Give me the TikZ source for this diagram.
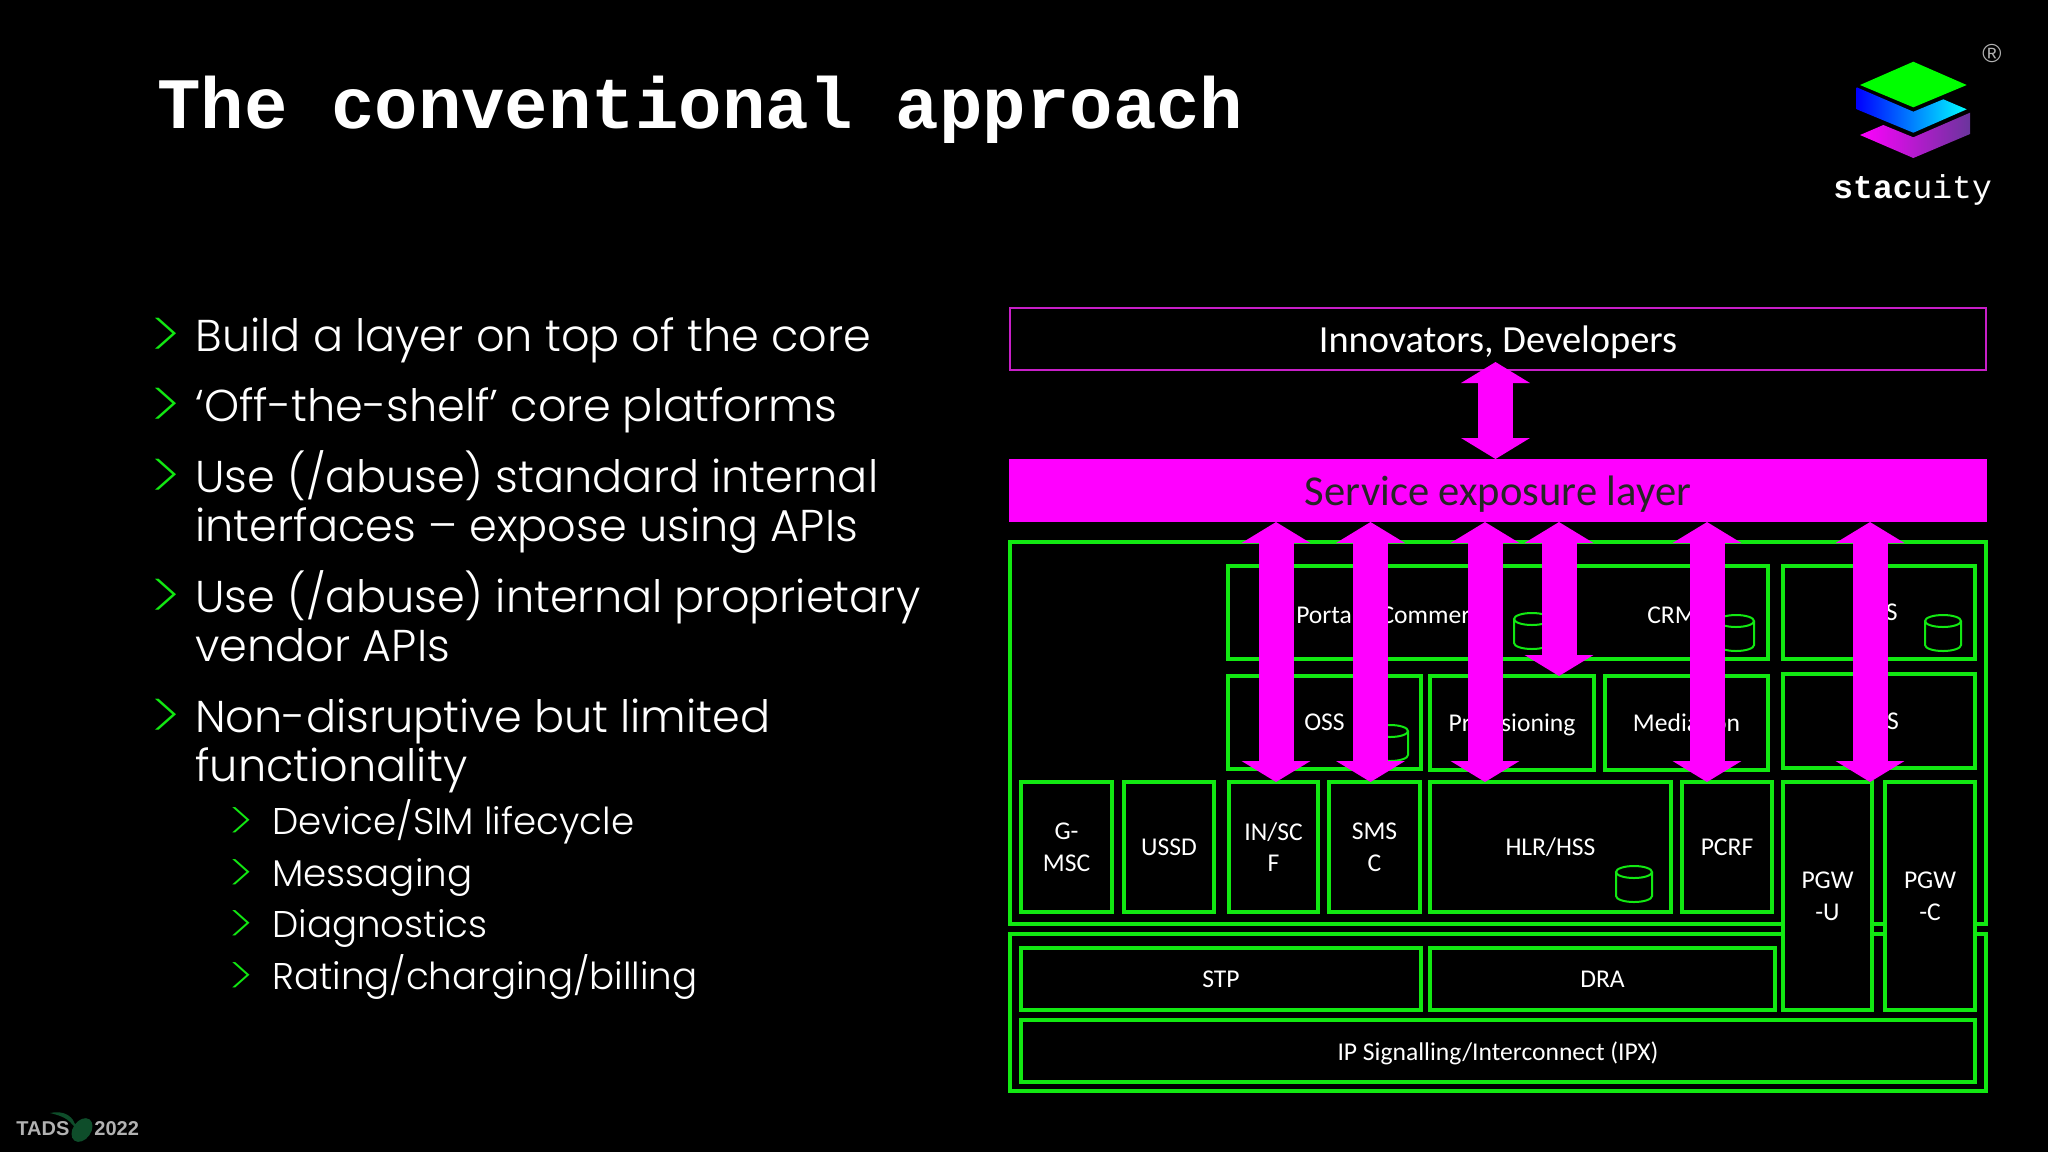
\documentclass[tikz,border=0pt]{standalone}
\usepackage{fontspec}
\setmainfont{Poppins Light}
\newfontfamily\markfont{Poppins ExtraLight}
\newfontfamily\boxfont{Carlito}
\newfontfamily\monofont{Liberation Mono}
\newfontfamily\tadsfont{Liberation Sans}
\usepackage{xcolor}
\usetikzlibrary{arrows.meta}
\definecolor{slidegreen}{HTML}{12E812}
\definecolor{slidemagenta}{HTML}{FF00FF}
\definecolor{framemagenta}{HTML}{C81FC8}
\definecolor{logopurple}{HTML}{6A359C}
\definecolor{leafgreen}{HTML}{0E4D2A}
\tikzset{
    greenbox/.style={draw=slidegreen, line width=1.6pt, fill=black, inner sep=0pt, outer sep=0pt, text=white, align=center, text depth=0pt, font=\boxfont\fontsize{12.8}{15.7}\selectfont},
    bigarrow/.style={slidemagenta, line width=17.5pt, {Triangle[width=34pt,length=10.5pt]}-{Triangle[width=34pt,length=10.5pt]}},
    bodyline/.style={anchor=base west, text=white, inner sep=0pt, font=\fontsize{22.3}{26}\selectfont},
    bodymark/.style={anchor=base west, text=slidegreen, inner sep=0pt, font=\markfont\fontsize{33}{36}\selectfont},
    subline/.style={anchor=base west, text=white, inner sep=0pt, font=\fontsize{18.6}{23}\selectfont},
    submark/.style={anchor=base west, text=slidegreen, inner sep=0pt, font=\markfont\fontsize{27}{30}\selectfont},
    boxlabel/.style={text=white, inner sep=0pt, font=\boxfont\fontsize{12.8}{15.7}\selectfont},
    dbcyl/.pic={
        \draw[slidegreen, line width=1pt] (-18,-12) -- (-18,12) arc[x radius=18, y radius=6, start angle=180, end angle=0] -- (18,-12);
        \draw[slidegreen, line width=1pt] (0,-12) ellipse[x radius=18, y radius=6];
    }
}
% box from its corners, in slide pixels
\newcommand{\slidebox}[7][greenbox]{
    \node[#1, minimum width=(#5-#3)*0.5pt, minimum height=(#6-#4)*0.5pt] (#2) at ({(#3+#5)/2},{(#4+#6)/2}) {#7};
}
\begin{document}
\begin{tikzpicture}[x=0.5pt, y=-0.5pt]
    \fill[black] (0,0) rectangle (2048,1152);
    \useasboundingbox (0,0) rectangle (2048,1152);

    % Title
    \node[anchor=base west, text=white, inner sep=0pt, font=\monofont\bfseries\fontsize{36.2}{40}\selectfont] (title) at (157,128) {The conventional approach};

    % Logo
    \fill[green] (1913.3,61.7) -- (1966.7,85) -- (1913.3,107.3) -- (1860,85) -- cycle;
    \shade[left color=blue, middle color=cyan!80!blue, right color=cyan] (1856.7,87.3) -- (1913.3,111.7) -- (1943.3,99.3) -- (1966.7,109.3) -- (1913.3,132.7) -- (1856.7,109.3) -- cycle;
    \shade[left color=slidemagenta, right color=logopurple] (1970,112.7) -- (1970,134) -- (1913.3,158) -- (1860,135) -- (1883.3,125) -- (1913.3,137.3) -- cycle;
    \node[text=white!70!black, inner sep=0pt, font=\tadsfont\fontsize{13}{15}\selectfont] (regmark) at (1992,54) {®};
    \node[anchor=base west, text=white, inner sep=0pt, font=\monofont\fontsize{16.5}{18}\selectfont] (logotext) at (1833,198) {\textbf{stac}uity};

    % Footer
    \fill[leafgreen] (50,1113) .. controls (60,1111) and (68,1113) .. (73,1120) -- (78,1130) -- (72,1124) .. controls (66,1117) and (58,1115) .. (50,1113) -- cycle;
    \fill[leafgreen, rotate around={-35:(82,1130)}] (82,1130) ellipse[x radius=9, y radius=13];
    \node[anchor=base west, text=gray!60, inner sep=0pt, font=\tadsfont\bfseries\fontsize{10}{12}\selectfont] (tads) at (16,1135) {TADS};
    \node[anchor=base west, text=gray!60, inner sep=0pt, font=\tadsfont\bfseries\fontsize{10}{12}\selectfont] (tadsyear) at (94,1135) {2022};

    % Bullets
    \foreach \y/\mark/\txt in {351/1/{Build a layer on top of the core},
        421.5/1/{‘Off-the-shelf’ core platforms},
        492/1/{Use (/abuse) standard internal},
        541/0/{interfaces – expose using APIs},
        612/1/{Use (/abuse) internal proprietary},
        661/0/{vendor APIs},
        732/1/{Non-disruptive but limited},
        781/0/{functionality}} {
        \node[bodyline] (line\y) at (195,\y) {\txt};
        \ifnum\mark=1
            \node[bodymark] (mark\y) at (151,\y+7) {>};
        \fi
    }
    \foreach \y/\txt in {834/{Device/SIM lifecycle},886/{Messaging},937/{Diagnostics},989/{Rating/charging/billing}} {
        \node[subline] (line\y) at (272,\y) {\txt};
        \node[submark] (mark\y) at (229,\y+6) {>};
    }

    % Top layers
    \slidebox[draw=framemagenta, line width=1.2pt, inner sep=0pt, outer sep=0pt, text=white, text depth=0pt, font=\boxfont\fontsize{19.2}{22}\selectfont]{innovators}{1010}{308}{1986}{370}{Innovators, Developers}
    \slidebox[fill=slidemagenta, inner sep=0pt, outer sep=0pt, text=black!85, text depth=0pt, font=\boxfont\fontsize{21.3}{24}\selectfont]{service}{1009}{459}{1987}{522}{Service exposure layer}

    % Outer frames
    \slidebox[greenbox, fill=none]{corebox}{1010}{542}{1986}{924}{}
    \slidebox[greenbox, fill=none]{ipbox}{1010}{934}{1986}{1091}{}

    % Upper rows
    \slidebox{portalbox}{1228}{566}{1768}{659}{}
    \node[boxlabel] (portal) at (1327,615) {Portal};
    \node[boxlabel] (commerce) at (1437,615) {Commerce};
    \node[boxlabel] (crm) at (1672,615) {CRM};
    \slidebox{bss}{1783}{566}{1975}{659}{BSS}
    \slidebox{oss}{1228}{676}{1421}{769}{OSS}
    \slidebox{prov}{1430}{676}{1594}{770}{Provisioning}
    \slidebox{mediation}{1605}{676}{1768}{770}{Mediation}
    \slidebox{vas}{1783}{674}{1975}{768}{VAS}

    % Network elements
    \slidebox{gmsc}{1021}{782}{1112}{912}{G-\\MSC}
    \slidebox{ussd}{1124}{782}{1214}{912}{USSD}
    \slidebox{insc}{1229}{782}{1318}{912}{IN/SC\\F}
    \slidebox{smsc}{1329}{782}{1420}{912}{SMS\\C}
    \slidebox{hlr}{1430}{782}{1671}{912}{HLR/HSS}
    \slidebox{pcrf}{1682}{782}{1772}{912}{PCRF}
    \slidebox{pgwu}{1783}{782}{1872}{1010}{PGW\\-U}
    \slidebox{pgwc}{1885}{782}{1975}{1010}{PGW\\-C}
    \slidebox{stp}{1021}{948}{1421}{1010}{STP}
    \slidebox{dra}{1430}{948}{1775}{1010}{DRA}
    \slidebox{ipx}{1021}{1020}{1975}{1082}{IP Signalling/Interconnect (IPX)}

    % Databases
    \foreach \cx/\cy in {1532/631,1736/633,1943/633,1390/743,1634/884} {
        \pic at (\cx,\cy) {dbcyl};
    }

    % Arrows
    \draw[bigarrow] ([yshift=4pt]1495.5,0 |- innovators.south) -- (1495.5,0 |- service.north);
    \foreach \xpos/\target in {1276/insc,1370.5/smsc,1485/hlr,1559/prov,1707/pcrf,1870/pgwu} {
        \draw[bigarrow] (\xpos,0 |- service.south) -- (\xpos,0 |- \target.north);
    }
\end{tikzpicture}
\end{document}
